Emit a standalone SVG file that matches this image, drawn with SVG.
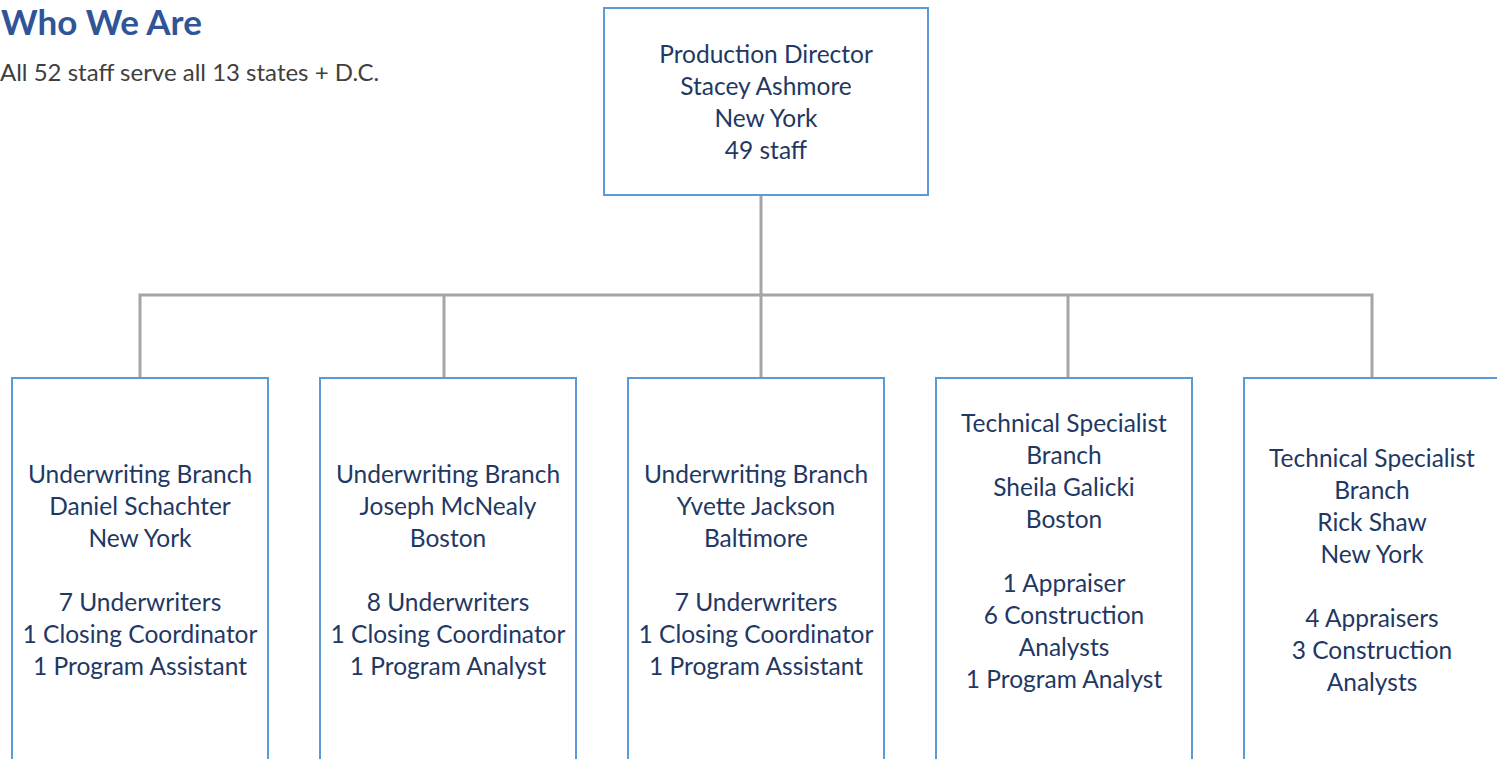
<svg xmlns="http://www.w3.org/2000/svg" width="1497" height="759" viewBox="0 0 1497 759">
<style>
.bg{fill:#ffffff}
.box{fill:#ffffff;stroke:#5b9bd5;stroke-width:2}
.t{font-family:Lato,"Open Sans","Liberation Sans",sans-serif;font-size:24.5px;fill:#1f3864;text-anchor:middle}
.title{font-family:Lato,"Open Sans","Liberation Sans",sans-serif;font-size:35px;font-weight:bold;fill:#2f5597}
.sub{font-family:Lato,"Open Sans","Liberation Sans",sans-serif;font-size:24px;fill:#404040}
.conn{fill:none;stroke:#a5a5a5;stroke-width:3}
</style>
<rect class="bg" x="0" y="0" width="1497" height="759"/>
<g id="heading">
<text class="title" x="1" y="35">Who We Are</text>
<text class="sub" x="0" y="81">All 52 staff serve all 13 states + D.C.</text>
</g>
<g id="connectors">
<path class="conn" d="M761,195 V295 M140,377 V295 H1372 V377 M444,295 V377 M761,295 V377 M1068,295 V377"/>
</g>
<g id="director">
<rect class="box" x="604" y="8" width="324" height="187"/>
<text class="t"><tspan x="766" y="63">Production Director</tspan><tspan x="766" y="95">Stacey Ashmore</tspan><tspan x="766" y="127">New York</tspan><tspan x="766" y="159">49 staff</tspan></text>
</g>
<g id="branch1">
<rect class="box" x="12" y="378" width="256" height="390"/>
<text class="t"><tspan x="140" y="483">Underwriting Branch</tspan><tspan x="140" y="515">Daniel Schachter</tspan><tspan x="140" y="547">New York</tspan><tspan x="140" y="611">7 Underwriters</tspan><tspan x="140" y="643">1 Closing Coordinator</tspan><tspan x="140" y="675">1 Program Assistant</tspan></text>
</g>
<g id="branch2">
<rect class="box" x="320" y="378" width="256" height="390"/>
<text class="t"><tspan x="448" y="483">Underwriting Branch</tspan><tspan x="448" y="515">Joseph McNealy</tspan><tspan x="448" y="547">Boston</tspan><tspan x="448" y="611">8 Underwriters</tspan><tspan x="448" y="643">1 Closing Coordinator</tspan><tspan x="448" y="675">1 Program Analyst</tspan></text>
</g>
<g id="branch3">
<rect class="box" x="628" y="378" width="256" height="390"/>
<text class="t"><tspan x="756" y="483">Underwriting Branch</tspan><tspan x="756" y="515">Yvette Jackson</tspan><tspan x="756" y="547">Baltimore</tspan><tspan x="756" y="611">7 Underwriters</tspan><tspan x="756" y="643">1 Closing Coordinator</tspan><tspan x="756" y="675">1 Program Assistant</tspan></text>
</g>
<g id="branch4">
<rect class="box" x="936" y="378" width="256" height="390"/>
<text class="t"><tspan x="1064" y="432">Technical Specialist</tspan><tspan x="1064" y="464">Branch</tspan><tspan x="1064" y="496">Sheila Galicki</tspan><tspan x="1064" y="528">Boston</tspan><tspan x="1064" y="592">1 Appraiser</tspan><tspan x="1064" y="624">6 Construction</tspan><tspan x="1064" y="656">Analysts</tspan><tspan x="1064" y="688">1 Program Analyst</tspan></text>
</g>
<g id="branch5">
<rect class="box" x="1244" y="378" width="256" height="390"/>
<text class="t"><tspan x="1372" y="467">Technical Specialist</tspan><tspan x="1372" y="499">Branch</tspan><tspan x="1372" y="531">Rick Shaw</tspan><tspan x="1372" y="563">New York</tspan><tspan x="1372" y="627">4 Appraisers</tspan><tspan x="1372" y="659">3 Construction</tspan><tspan x="1372" y="691">Analysts</tspan></text>
</g>
</svg>
